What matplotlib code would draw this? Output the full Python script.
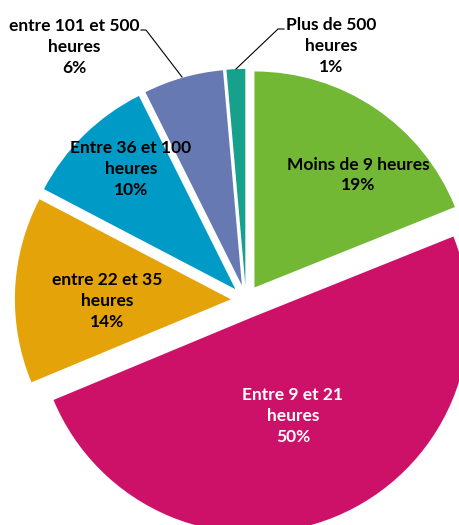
import matplotlib
matplotlib.use("Agg")
import matplotlib.pyplot as plt

# data
categories = ["Moins de 9 heures", "Entre 9 et 21\nheures", "entre 22 et 35\nheures",
              "Entre 36 et 100\nheures", "entre 101 et 500\nheures", "Plus de 500\nheures"]
percents = [19, 50, 14, 10, 6, 1.4]
shown_pct = ["19%", "50%", "14%", "10%", "6%", "1%"]
colors = ["#72B835", "#CD1168", "#E3A309", "#009AC6", "#6779B3", "#17A08C"]
text_colors = ["black", "white", "black", "black", "black", "black"]

# layout (pixels)
W, H = 460, 525
cx, cy, R = 246, 300, 216
label_px = [(358, 175), (293, 416), (107, 301), (131, 169), (74, 47), (331, 46)]


def px(x, y):
    return (x - cx) / R, (cy - y) / R


plt.rcParams['font.family'] = ['Lato', 'DejaVu Sans']

fig = plt.figure(figsize=(W / 100, H / 100), dpi=100)
ax = fig.add_axes([0, 0, 1, 1])

ax.pie(percents, colors=colors, startangle=90, counterclock=False,
       explode=[0.07, 0.085, 0.07, 0.07, 0.07, 0.07], radius=1,
       wedgeprops=dict(linewidth=0))

for cat, pct, pos, tc in zip(categories, shown_pct, label_px, text_colors):
    x, y = px(*pos)
    ax.text(x, y, cat + "\n" + pct, ha="center", va="center", fontsize=12.5,
            fontweight="bold", color=tc, linespacing=1.36)

# leader lines for the small slices
for pts in ([(141, 30), (146, 30), (182, 77)], [(284, 29), (278, 29), (236, 69)]):
    xs, ys = zip(*[px(a, b) for a, b in pts])
    ax.plot(xs, ys, color="black", linewidth=0.8)

ax.set_aspect("auto")
ax.set_xlim(-cx / R, (W - cx) / R)
ax.set_ylim(-(H - cy) / R, cy / R)
ax.axis("off")

fig.savefig("out.png", dpi=100, facecolor="white")
